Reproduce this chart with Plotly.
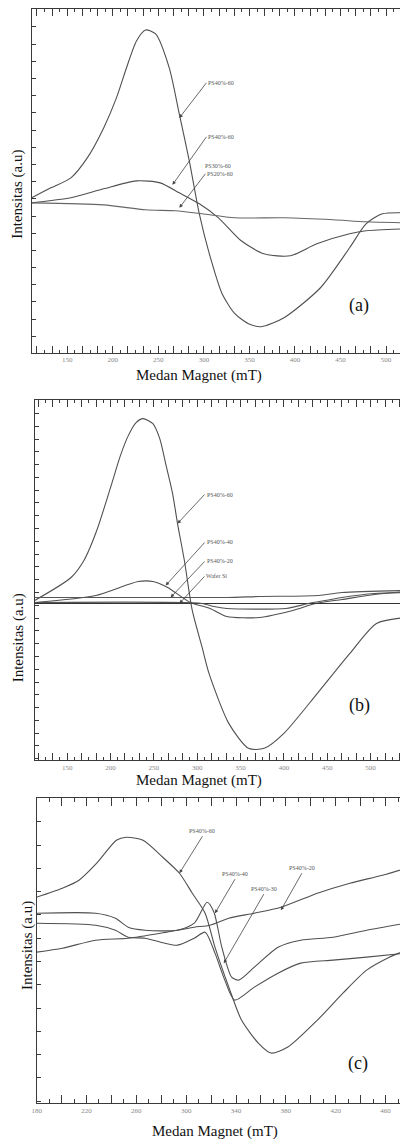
import plotly.graph_objects as go

# ---------------- Panel (a) data  (Medan Magnet mT, Intensitas a.u.) ----------------
a_x_big = [111, 132, 154, 172, 190, 204, 215, 226, 236, 247, 262, 273, 284, 295, 306, 320, 334, 349, 363, 388, 428, 460, 478, 496, 522]
a_y_big = [5, 15, 25, 45, 75, 105, 135, 162, 173, 169, 135, 89, 42, -11, -51, -91, -111, -121, -124, -115, -85, -45, -21, -11, -10]
a_x_mid = [111, 154, 190, 226, 252, 273, 295, 316, 341, 366, 395, 424, 460, 478, 522]
a_y_mid = [0, 5, 14, 22, 20, 10, -1, -15, -38, -51, -53, -41, -31, -28, -26]
a_x_flat = [111, 190, 236, 269, 298, 334, 388, 442, 478, 522]
a_y_flat = [0, -2, -7, -8, -11, -15, -15, -17, -19, -20]

# ---------------- Panel (b) data ----------------
b_x_big = [112.5, 154.5, 169.3, 184.1, 200, 211.4, 220.5, 229.5, 237.5, 248.9, 256.8, 263.6, 271.6, 277.3, 285.2, 294.3, 305.7, 313.6, 336.4, 359.1, 377.3, 400, 438.6, 476.1, 506.8, 540.9]
b_y_big = [3, 26, 43, 73, 116, 148, 168, 181, 185, 180, 165, 140, 110, 80, 43, -7, -44, -70, -120, -145, -145, -130, -90, -50, -20, -14]
b_x_40 = [112.5, 183, 231.8, 248.9, 265.9, 292, 314.8, 334, 371.6, 410.2, 436.4, 467, 504.5, 542]
b_y_40 = [1, 8, 22, 22, 16, 1, -5, -13, -14, -7, 0, 4, 9, 12]
b_x_20 = [112.5, 334, 371.6, 439.8, 467, 542]
b_y_20 = [6, 6, 7, 8, 11, 13]
b_x_si = [112.5, 542]
b_y_si = [0, 0]
b_x_dip = [112.5, 305.7, 319.3, 334, 402.3, 428.4, 447.7, 467, 504.5, 542]
b_y_dip = [1, 0, -3, -5, -5, 0, 3, 6, 10, 11]

# ---------------- Panel (c) data ----------------
c_x_60 = [180, 200.6, 214, 228.2, 244, 251.9, 265.4, 281.2, 294.6, 304.9, 315.2, 323.1, 334.2, 344.4, 357.9, 368.1, 381.6, 405.3, 425.8, 444.8, 463, 476.4]
c_y_60 = [33, 42, 50, 67, 90, 93, 90, 73, 57, 37, 17, -17, -57, -90, -113, -123, -117, -90, -63, -40, -27, -20]
c_x_40 = [180, 227.4, 243.2, 253.5, 267, 293, 306.5, 316.8, 322.3, 328.6, 336.5, 342.1, 354.7, 373.7, 391.9, 417.9, 444.8, 476.4]
c_y_40 = [17, 17, 12, 3, 0, 0, 7, 28, 18, -17, -47, -50, -37, -17, -10, -7, 0, 7]
c_x_30 = [180, 227.4, 243.2, 253.5, 267, 279.6, 293, 306.5, 315.2, 323.1, 331, 338.9, 354.7, 373.7, 391.9, 417.9, 444.8, 476.4]
c_y_30 = [7, 5, 0, -7, -8, -12, -15, -8, -2, -23, -50, -70, -57, -43, -33, -30, -27, -23]
c_x_20 = [180, 200.6, 227.4, 253.5, 279.6, 293, 306.5, 319.1, 334.2, 354.7, 376.1, 405.3, 431.4, 457.5, 476.4]
c_y_20 = [-22, -18, -10, -8, -3, 0, 3, 5, 12, 17, 23, 37, 47, 55, 62]

# tick labels
ab_tick_labels = [150, 200, 250, 300, 350, 400, 450, 500]
c_tick_labels = [180, 220, 260, 300, 340, 380, 420, 460]

LINE = "#505050"
FRAME = "#3a3a3a"
SERIF = "'Times New Roman', 'Liberation Serif', 'DejaVu Serif', serif"

# page has an 8px body margin: figure is 400x1131 and sits at (8, 8)
OFF = 8.0
W = 400.0
H = 1131.0

def px_x(px):
    return (px - OFF) / W

def px_y(py):
    return 1 - (py - OFF) / H

fig = go.Figure()

def add(x, y, xa, ya, w=1.1, color=LINE):
    fig.add_trace(go.Scatter(x=x, y=y, mode="lines", xaxis=xa, yaxis=ya,
                             line=dict(color=color, width=w, shape="spline", smoothing=0.7),
                             showlegend=False, hoverinfo="skip"))

add(a_x_big, a_y_big, "x", "y")
add(a_x_mid, a_y_mid, "x", "y")
add(a_x_flat, a_y_flat, "x", "y", color="#666")

add(b_x_big, b_y_big, "x2", "y2")
add(b_x_40, b_y_40, "x2", "y2")
add(b_x_20, b_y_20, "x2", "y2", color="#555")
add(b_x_si, b_y_si, "x2", "y2", color="#333")
add(b_x_dip, b_y_dip, "x2", "y2", color="#555")

add(c_x_60, c_y_60, "x3", "y3")
add(c_x_40, c_y_40, "x3", "y3")
add(c_x_30, c_y_30, "x3", "y3")
add(c_x_20, c_y_20, "x3", "y3")


def xaxis_ab(left_px, rng):
    vals, texts = [], []
    k = -3
    while True:
        v = 150 + k * 50 / 3
        if v > rng[1]:
            break
        if v >= rng[0]:
            vals.append(v)
            lab = 150 + (k // 3) * 50
            texts.append(str(lab) if (k % 3 == 0 and lab in ab_tick_labels) else "")
        k += 1
    return dict(domain=[px_x(left_px), 1.0], range=rng, showline=True, linecolor=FRAME, linewidth=1.3,
                mirror="ticks", ticks="inside", ticklen=7, tickcolor=FRAME, tickwidth=1,
                tickmode="array", tickvals=vals, ticktext=texts,
                minor=dict(tickmode="linear", tick0=150, dtick=50 / 6, ticklen=3, tickcolor=FRAME, ticks="inside"),
                tickfont=dict(family=SERIF, size=7, color="#888"),
                showgrid=False, zeroline=False)

def yaxis(top_px, bot_px, rng, tick0, dtick):
    return dict(domain=[px_y(bot_px), px_y(top_px)], range=rng, showline=True, linecolor=FRAME,
                linewidth=1.3, mirror="ticks", ticks="inside", ticklen=4, tickcolor=FRAME,
                tickmode="linear", tick0=tick0, dtick=dtick, showticklabels=False,
                showgrid=False, zeroline=False)

c_vals = list(range(180, 480, 20))
c_text = [str(v) if v in c_tick_labels else "" for v in c_vals]

fig.update_layout(
    width=400, height=1131, margin=dict(l=0, r=0, t=0, b=0),
    paper_bgcolor="white", plot_bgcolor="white",
    font=dict(family=SERIF),
    xaxis=dict(xaxis_ab(27, [111, 523]), anchor="y"),
    yaxis=dict(yaxis(8, 352, [-150, 194], 4, 17.2), anchor="x"),
    xaxis2=dict(xaxis_ab(30, [112.5, 542]), anchor="y2"),
    yaxis2=dict(yaxis(399, 760, [-157, 204], 11, 12.8), anchor="x2"),
    xaxis3=dict(domain=[px_x(32), 1.0], range=[180, 477.2], anchor="y3", showline=True, linecolor=FRAME,
                linewidth=1.3, mirror="ticks", ticks="inside", ticklen=8, tickcolor=FRAME,
                tickmode="array", tickvals=c_vals, ticktext=c_text,
                minor=dict(tickmode="linear", tick0=180, dtick=10, ticklen=4, tickcolor=FRAME, ticks="inside"),
                tickfont=dict(family=SERIF, size=7, color="#888"), showgrid=False, zeroline=False),
    yaxis3=dict(yaxis(798, 1103, [-173, 132], -8, 23.3), anchor="x3"),
)

ann = []
def ptxt(text, xpx, ypx, size, angle=0, color="#111"):
    ann.append(dict(text=text, x=px_x(xpx), y=px_y(ypx), xref="paper", yref="paper",
                    showarrow=False, textangle=angle, xanchor="center", yanchor="middle",
                    font=dict(family=SERIF, size=size, color=color)))

# axis titles
ptxt("Medan Magnet (mT)", 197, 375, 15)
ptxt("Intensitas (a.u)", 13, 193, 15, angle=-90)
ptxt("Medan Magnet (mT)", 197, 780, 15)
ptxt("Intensitas (a.u)", 14, 637, 15, angle=-90)
ptxt("Medan Magnet (mT)", 213, 1131, 15)
ptxt("Intensitas (a.u)", 22, 945, 15, angle=-90)
# panel letters
ptxt("(a)", 359, 305, 18)
ptxt("(b)", 360, 705, 18)
ptxt("(c)", 358, 1063, 18)

def arrow_label(text, xd, yd, xr, yr, ax, ay, xanchor="left", yanchor="middle"):
    ann.append(dict(text=text, x=xd, y=yd, xref=xr, yref=yr, ax=ax, ay=ay, axref="pixel", ayref="pixel",
                    showarrow=True, arrowhead=2, arrowsize=0.9, arrowwidth=0.8, arrowcolor="#444",
                    xanchor=xanchor, yanchor=yanchor,
                    font=dict(family=SERIF, size=6, color="#555")))

# panel (a) labels
arrow_label("PS40%-60", 273.1, 85, "x", "y", 27, -35)
arrow_label("PS40%-60", 265.5, 18, "x", "y", 34, -48)
ptxt("PS30%-60", 216, 165, 6, color="#555")
arrow_label("PS20%-60", 273.1, -5, "x", "y", 26, -34)
# panel (b) labels
arrow_label("PS40%-60", 277.3, 80, "x2", "y2", 27, -29)
arrow_label("PS40%-40", 263.6, 18, "x2", "y2", 39, -43)
arrow_label("PS40%-20", 269.3, 6, "x2", "y2", 34, -36)
arrow_label("Wafer Si", 279.5, 0, "x2", "y2", 25, -27)
# panel (c) labels
arrow_label("PS40%-60", 294.6, 57, "x3", "y3", 23, -37, "center", "bottom")
arrow_label("PS40%-40", 323.1, 17, "x3", "y3", 20, -34, "center", "bottom")
arrow_label("PS40%-30", 330.2, -33, "x3", "y3", 40, -69, "center", "bottom")
arrow_label("PS40%-20", 376.0, 20, "x3", "y3", 21, -37, "center", "bottom")

fig.update_layout(annotations=ann)
fig.write_html("out.html")
